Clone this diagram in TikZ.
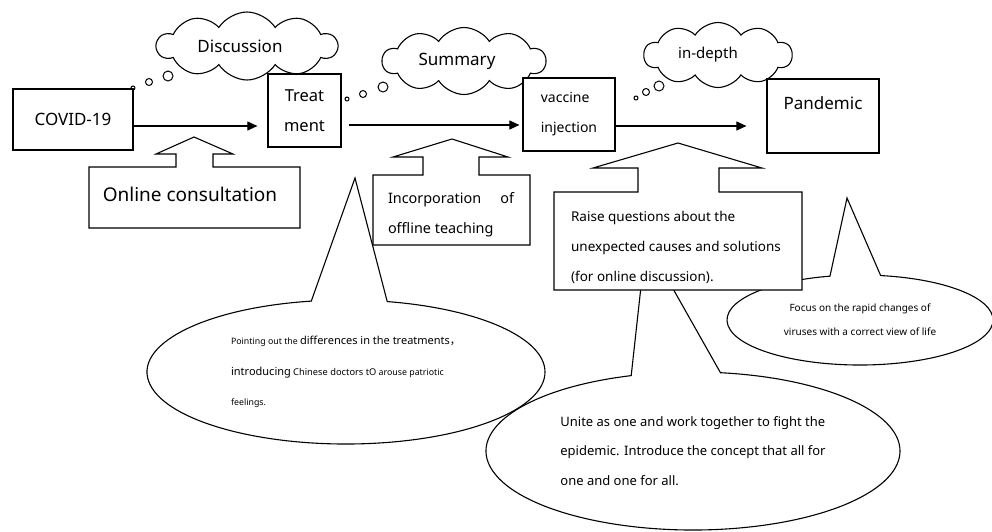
\documentclass[tikz,border=0pt]{standalone}
\usepackage{fontspec}
\setmainfont{Noto Sans}
\newfontfamily\cjkfont{Noto Sans CJK SC}
\usetikzlibrary{arrows.meta,shapes.symbols,shapes.callouts}
\tikzset{
	stepbox/.style={draw, line width=1.2pt, fill=white, inner sep=0pt},
	thought/.style={cloud, draw, line width=1.1pt, fill=white, cloud puffs=10, cloud puff arc=115, cloud ignores aspect, inner sep=0pt, font=\fontsize{17}{20}\selectfont},
	flow/.style={line width=1.1pt, -{Triangle[length=10pt,width=9pt]}},
	upcallout/.style={draw, line width=1.1pt, fill=white, line join=miter},
	note/.style={ellipse callout, draw, line width=1.1pt, fill=white, inner sep=0pt, callout pointer arc=22},
	bigtext/.style={font=\fontsize{17}{20}\selectfont}
}

\begin{document}
\begin{tikzpicture}[x=1pt,y=-1pt]
\useasboundingbox (0,0) rectangle (992,531);

% ellipse notes
\node[note, minimum width=398, minimum height=144, callout absolute pointer={(355,178)}, align=left, font=\fontsize{8.8}{30.5}\selectfont] (ptnote) at (346,372) {Pointing out the {\fontsize{11}{30.5}\selectfont differences in the treatments{\cjkfont ，}}\\{\fontsize{11}{30.5}\selectfont introducing} {\fontsize{9.3}{30.5}\selectfont Chinese doctors tO} arouse patriotic\\feelings.};
\node[note, minimum width=414, minimum height=158, callout absolute pointer={(646,241)}, callout pointer arc=25, align=left, font=\fontsize{13}{29.5}\selectfont] (unitenote) at (693,451) {Unite as one and work together to fight the\\epidemic. Introduce the concept that all for\\one and one for all.};
\node[note, minimum width=266, minimum height=90, callout absolute pointer={(847,198)}, align=center, font=\fontsize{10}{24}\selectfont] (focusnote) at (860,320) {Focus on the rapid changes of\\viruses with a correct view of life};

% up arrow callouts
\draw[upcallout] (89,228) -- (89,167) -- (176,167) -- (176,154) -- (156,154) -- (194,137) -- (233,154) -- (213,154) -- (213,167) -- (300,167) -- (300,228) -- cycle;
\node[font=\fontsize{19}{22}\selectfont] (online) at (190,194) {Online consultation};

\draw[upcallout] (373,245) -- (373,175) -- (423,175) -- (423,157) -- (393,157) -- (452,139) -- (508,157) -- (479,157) -- (479,175) -- (530,175) -- (530,245) -- cycle;
\node[align=left, font=\fontsize{14.4}{30}\selectfont] (offline) at (451,215) {\hbox to 126pt{Incorporation\hfill of}\\offline teaching};

\draw[upcallout] (554,290) -- (554,192) -- (638,192) -- (638,168) -- (593,168) -- (678,143) -- (762,168) -- (719,168) -- (719,192) -- (802,192) -- (802,290) -- cycle;
\node[align=left, font=\fontsize{13.5}{30}\selectfont] (raise) at (676,247) {Raise questions about the\\unexpected causes and solutions\\(for online discussion).};

% clouds
\node[thought, minimum width=180, minimum height=68] (discuss) at (247,46) {Discussion\hspace*{14pt}};
\node[thought, minimum width=163, minimum height=67] (summ) at (464,61) {Summary\hspace*{14pt}};
\node[thought, minimum width=148, minimum height=65, font=\fontsize{15}{18}\selectfont] (deep) at (718,55) {in-depth\hspace*{20pt}};
\foreach \cx/\cy/\r in {133/88/2, 149/82/3.5, 168/76/5, 347/99/2, 363/94/3.5, 383/87/5, 636/98/2, 646/92/3.5, 659/86/5}
	\draw[line width=1pt] (\cx,\cy) circle[radius=\r];

% boxes
\node[stepbox, bigtext, minimum width=120, minimum height=61] (covid) at (73,119.5) {COVID-19};
\node[stepbox, minimum width=73, minimum height=73, align=center, font=\fontsize{16.5}{30}\selectfont] (treat) at (304.5,110.5) {Treat\\ment};
\node[stepbox, minimum width=92, minimum height=73, align=left, font=\fontsize{14}{30}\selectfont] (vaccine) at (569,114.5) {vaccine\\injection};
\node[stepbox, bigtext, minimum width=112, minimum height=74, text height=12pt, text depth=26pt] (pandemic) at (823,116) {Pandemic};

% arrows
\coordinate (rowa) at (0,126);
\coordinate (rowb) at (0,125);
\draw[flow, shorten >=10pt] (covid.east |- rowa) -- (treat.west |- rowa);
\draw[flow, shorten <=7pt, shorten >=3pt] (treat.east |- rowb) -- (vaccine.west |- rowb);
\draw[flow, shorten >=20pt] (vaccine.east |- rowa) -- (pandemic.west |- rowa);

\end{tikzpicture}
\end{document}
